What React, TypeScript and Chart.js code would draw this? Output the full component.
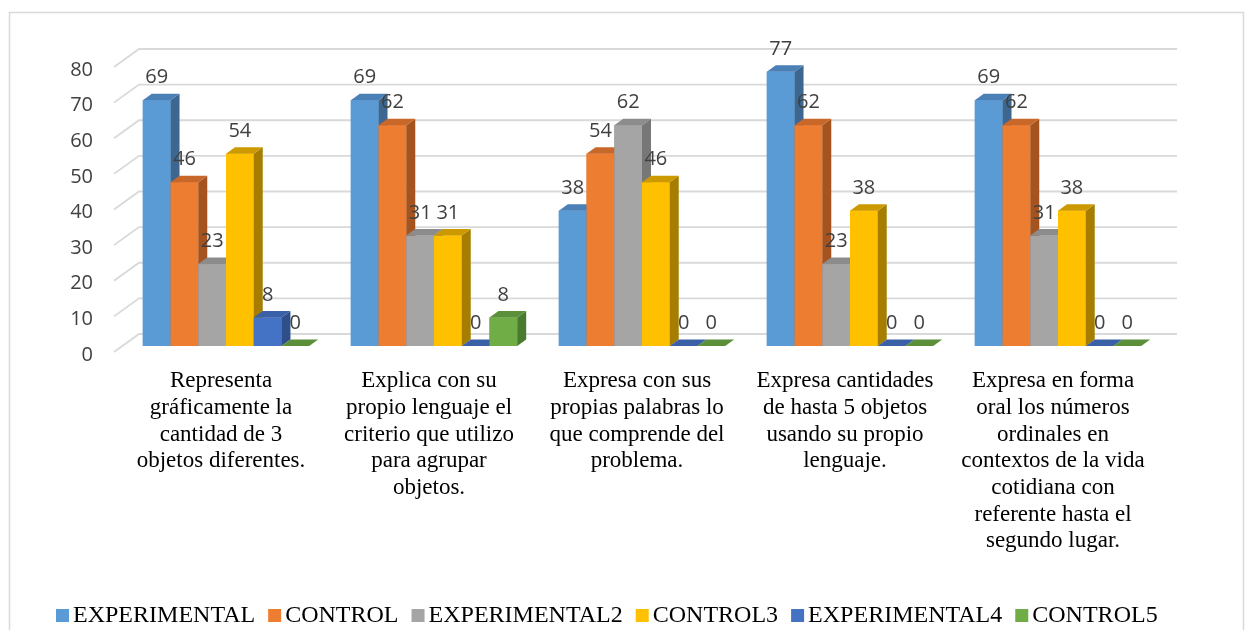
import React, { useEffect, useRef } from 'react';
import { Chart, registerables } from 'chart.js';

Chart.register(...registerables);

const categories: string[][] = [
  ['Representa', 'gráficamente la', 'cantidad de 3', 'objetos diferentes.'],
  ['Explica con su', 'propio lenguaje el', 'criterio que utilizo', 'para agrupar', 'objetos.'],
  ['Expresa con sus', 'propias palabras lo', 'que comprende del', 'problema.'],
  ['Expresa cantidades', 'de hasta 5 objetos', 'usando su propio', 'lenguaje.'],
  ['Expresa en forma', 'oral los números', 'ordinales en', 'contextos de la vida', 'cotidiana con', 'referente hasta el', 'segundo lugar.'],
];

const seriesNames = ['EXPERIMENTAL', 'CONTROL', 'EXPERIMENTAL2', 'CONTROL3', 'EXPERIMENTAL4', 'CONTROL5'];

const experimental = [69, 69, 38, 77, 69];
const control = [46, 62, 54, 62, 62];
const experimental2 = [23, 31, 62, 23, 31];
const control3 = [54, 31, 46, 38, 38];
const experimental4 = [8, 0, 0, 0, 0];
const control5 = [0, 8, 0, 0, 0];

const yMin = 0;
const yMax = 80;
const yStep = 10;

const frontColors = ['#5b9bd5', '#ed7d31', '#a5a5a5', '#ffc000', '#4472c4', '#70ad47'];
const sideColors = ['#3d6790', '#a5541f', '#777777', '#a67d00', '#2e4f8a', '#4a7a2e'];
const topColors = ['#4a80b6', '#c8672a', '#8c8c8c', '#cc9a00', '#3a61a8', '#5b8f3a'];

const DX = 9;
const DY = 6.5;
const LEGEND_STRETCH = 1.044;

const threeDPlugin = {
  id: 'threeD',
  beforeDraw(chart: any) {
    const { ctx } = chart;
    ctx.save();
    ctx.fillStyle = '#ffffff';
    ctx.fillRect(0, 0, chart.width, chart.height);
    ctx.strokeStyle = '#d9d9d9';
    ctx.lineWidth = 1.5;
    ctx.strokeRect(9.5, 12.5, 1234, 700);
    ctx.restore();
  },
  beforeDatasetsDraw(chart: any) {
    const { ctx, chartArea } = chart;
    const y = chart.scales.y;
    const backL = chartArea.left + 17;
    const backR = chartArea.right + 15;
    const frontL = chartArea.left - 8;
    ctx.save();
    ctx.strokeStyle = '#d9d9d9';
    ctx.lineWidth = 1.8;
    y.ticks.forEach((t: any) => {
      const py = y.getPixelForValue(t.value);
      ctx.beginPath();
      ctx.moveTo(frontL, py + 6);
      ctx.lineTo(backL, py - 12);
      ctx.lineTo(backR, py - 12);
      ctx.stroke();
    });
    ctx.restore();
  },
  afterDatasetsDraw(chart: any) {
    const { ctx } = chart;
    const n = chart.data.labels.length;
    const dsCount = chart.data.datasets.length;
    ctx.save();
    for (let j = 0; j < n; j++) {
      for (let i = 0; i < dsCount; i++) {
        const el: any = chart.getDatasetMeta(i).data[j];
        const { x, y, base, width } = el.getProps(['x', 'y', 'base', 'width'], true);
        const l = x - width / 2;
        const r = x + width / 2;
        const top = Math.min(y, base);
        ctx.fillStyle = frontColors[i];
        ctx.fillRect(l, top, r - l, base - top);
        if (base - top > 0.5) {
          ctx.fillStyle = sideColors[i];
          ctx.beginPath();
          ctx.moveTo(r, top);
          ctx.lineTo(r + DX, top - DY);
          ctx.lineTo(r + DX, base - DY);
          ctx.lineTo(r, base);
          ctx.closePath();
          ctx.fill();
        }
        ctx.fillStyle = topColors[i];
        ctx.beginPath();
        ctx.moveTo(l, top);
        ctx.lineTo(l + DX, top - DY);
        ctx.lineTo(r + DX, top - DY);
        ctx.lineTo(r, top);
        ctx.closePath();
        ctx.fill();
      }
    }
    ctx.fillStyle = '#404040';
    ctx.font = '20px "Open Sans"';
    ctx.textAlign = 'center';
    ctx.textBaseline = 'alphabetic';
    for (let i = 0; i < dsCount; i++) {
      const meta = chart.getDatasetMeta(i);
      meta.data.forEach((el: any, j: number) => {
        const { x, y } = el.getProps(['x', 'y'], true);
        ctx.fillText(String(chart.data.datasets[i].data[j]), x, y - 17);
      });
    }
    ctx.restore();
  },
  afterDraw(chart: any) {
    const { ctx } = chart;
    ctx.save();
    ctx.font = '23px "Liberation Serif"';
    ctx.textBaseline = 'alphabetic';
    ctx.textAlign = 'left';
    let sx = 56;
    chart.data.datasets.forEach((ds: any, i: number) => {
      ctx.fillStyle = frontColors[i];
      ctx.fillRect(sx, 609, 13, 13);
      ctx.fillStyle = '#000000';
      const tx = sx + 17;
      ctx.save();
      ctx.translate(tx, 622);
      ctx.scale(LEGEND_STRETCH, 1);
      ctx.fillText(ds.label, 0, 0);
      ctx.restore();
      sx = tx + ctx.measureText(ds.label).width * LEGEND_STRETCH + 13;
    });
    ctx.restore();
  },
};

export default function App() {
  const ref = useRef<HTMLCanvasElement>(null);
  useEffect(() => {
    const seriesData = [experimental, control, experimental2, control3, experimental4, control5];
    const chart = new Chart(ref.current as HTMLCanvasElement, {
      type: 'bar',
      data: {
        labels: categories as any,
        datasets: seriesNames.map((name, i) => ({
          label: name,
          data: seriesData[i],
          backgroundColor: frontColors[i],
          borderWidth: 0,
          barPercentage: 1,
          categoryPercentage: 0.8,
        })),
      },
      options: {
        responsive: false,
        animation: false,
        devicePixelRatio: 1,
        layout: { padding: { top: 61, right: 88, left: 0, bottom: 0 } },
        plugins: {
          legend: { display: false },
          tooltip: { enabled: false },
        },
        scales: {
          x: {
            grid: { display: false, drawTicks: false },
            border: { display: false },
            ticks: {
              font: { family: 'Liberation Serif', size: 23, lineHeight: 1.16 },
              color: '#000000',
              padding: 22,
              labelOffset: -5,
              maxRotation: 0,
              minRotation: 0,
              autoSkip: false,
            },
            afterFit: (s: any) => {
              s.height = 284;
            },
          },
          y: {
            min: yMin,
            max: yMax,
            grid: { display: false, drawTicks: false },
            border: { display: false },
            ticks: {
              stepSize: yStep,
              font: { family: 'Open Sans', size: 20 },
              color: '#404040',
              padding: 29,
              labelOffset: 9,
            },
            afterFit: (s: any) => {
              s.width = 122;
            },
          },
        },
      },
      plugins: [threeDPlugin],
    });
    return () => chart.destroy();
  }, []);
  return (
    <div style={{ position: 'fixed', left: 0, top: 0, width: 1250, height: 630, background: '#fff' }}>
      <canvas ref={ref} width={1250} height={630} style={{ display: 'block' }} />
    </div>
  );
}
